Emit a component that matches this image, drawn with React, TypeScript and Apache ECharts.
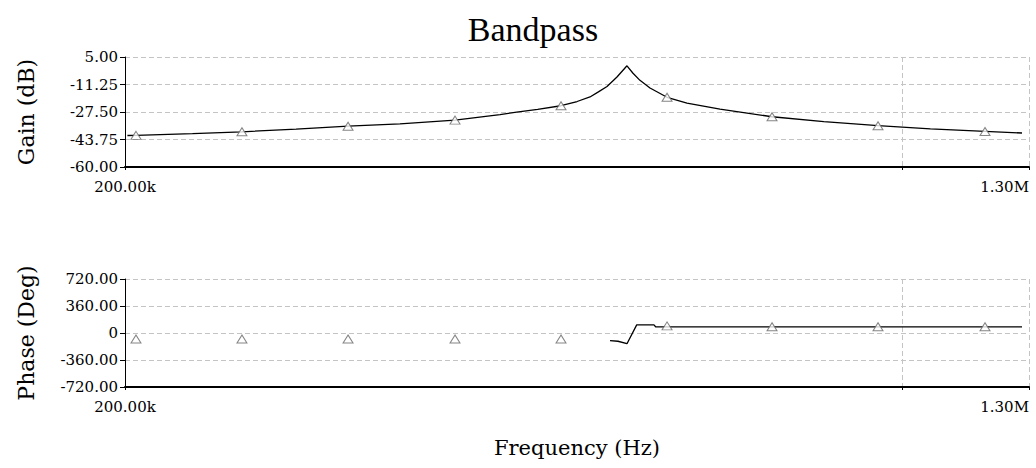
import React, { useEffect, useRef } from "react";
import * as echarts from "echarts";

// Frequency axis (log scale)
const freqMin = 200000;
const freqMax = 1300000;

// Gain plot axis
const gainMin = -60;
const gainMax = 5;
const gainStep = 16.25;

// Phase plot axis
const phaseMin = -720;
const phaseMax = 720;
const phaseStep = 360;

// Gain curve (Hz, dB)
const gainFreq = [
  201000, 204600, 230000, 254800, 285000, 317400, 353400, 396100, 434800, 450000,
  470000, 493300, 510000, 523800, 533000, 542600, 553900, 565500, 572600, 580900,
  593100, 614400, 640300, 685600, 763600, 850000, 951000, 1060000, 1186800, 1281300,
];
const gainDb = [
  -41.4, -41.3, -40.3, -39.2, -37.6, -35.9, -34.5, -32.3, -29.0, -27.6,
  -26.0, -23.8, -21.3, -18.6, -15.6, -12.4, -6.8, -0.2, -4.6, -8.8,
  -13.3, -18.8, -22.3, -25.8, -30.3, -33.2, -35.6, -37.5, -39.0, -39.9,
];

// Phase curve (Hz, degrees) — drawn only around and above resonance
const phaseFreq = [546000, 555000, 565500, 577000, 598000, 600000, 763600, 951000, 1186800, 1281300];
const phaseDeg = [-103, -110, -143, 108, 108, 83, 83, 83, 83, 83];

// Triangle markers
const markerFreq = [204600, 254800, 317400, 396100, 493300, 614400, 763600, 951000, 1186800];
const markerGain = [-41.3, -39.2, -35.9, -32.3, -23.8, -18.8, -30.3, -35.6, -39.0];
const markerPhase = [-80, -80, -80, -80, -80, 95, 84, 84, 84];

const zip = (a: number[], b: number[]) => a.map((v, i) => [v, b[i]]);

const freqLabel = (v: number) => {
  if (Math.abs(v - 1e6) < 1) return "";
  if (v >= 1e6) return (v / 1e6).toFixed(2) + "M";
  return (v / 1e3).toFixed(2) + "k";
};

const tickFont = { fontFamily: "DejaVu Serif", fontSize: 15, color: "#000" };
const nameFont = { fontFamily: "DejaVu Serif", fontSize: 22, color: "#000" };
const dashed = { show: true, lineStyle: { color: "#c4c4c4", type: [5, 3] as any, width: 1 } };

export default function App() {
  const ref = useRef<HTMLDivElement>(null);
  useEffect(() => {
    document.body.style.margin = "0";
    if (!ref.current) return;
    const chart = echarts.init(ref.current, undefined, { renderer: "svg" });
    const xAxisBase = (gridIndex: number) => ({
      type: "log" as const,
      gridIndex,
      min: freqMin,
      max: freqMax,
      logBase: 10,
      axisLine: { show: true, onZero: false, lineStyle: { color: "#000", width: 2 } },
      axisTick: { show: true, length: 3, lineStyle: { color: "#000" } },
      axisLabel: {
        ...tickFont,
        margin: 12,
        formatter: freqLabel,
        showMinLabel: true,
        showMaxLabel: true,
        alignMaxLabel: "right",
      },
      splitLine: dashed,
      minorTick: { show: false },
    });
    chart.setOption({
      animation: false,
      backgroundColor: "#fff",
      graphic: [
        {
          type: "text",
          x: 533,
          y: 29,
          style: {
            text: "Bandpass",
            fontFamily: "Liberation Serif",
            fontSize: 34,
            fill: "#000",
            align: "center",
            verticalAlign: "middle",
          },
        },
      ],
      grid: [
        { left: 125, top: 57, width: 904, height: 110 },
        { left: 125, top: 279, width: 904, height: 108 },
      ],
      xAxis: [
        xAxisBase(0),
        {
          ...xAxisBase(1),
          name: "Frequency (Hz)",
          nameLocation: "middle",
          nameGap: 50,
          nameTextStyle: { ...nameFont, fontSize: 21 },
        },
      ],
      yAxis: [
        {
          type: "value",
          gridIndex: 0,
          min: gainMin,
          max: gainMax,
          interval: gainStep,
          name: "Gain (dB)",
          nameLocation: "middle",
          nameGap: 88,
          nameTextStyle: nameFont,
          axisLine: { show: true, onZero: false, lineStyle: { color: "#000", width: 1 } },
          axisTick: { show: true, length: 5, lineStyle: { color: "#000" } },
          axisLabel: { ...tickFont, margin: 7, formatter: (v: number) => v.toFixed(2) },
          splitLine: dashed,
        },
        {
          type: "value",
          gridIndex: 1,
          min: phaseMin,
          max: phaseMax,
          interval: phaseStep,
          name: "Phase (Deg)",
          nameLocation: "middle",
          nameGap: 88,
          nameTextStyle: nameFont,
          axisLine: { show: true, onZero: false, lineStyle: { color: "#000", width: 1 } },
          axisTick: { show: true, length: 5, lineStyle: { color: "#000" } },
          axisLabel: {
            ...tickFont,
            margin: 7,
            formatter: (v: number) => (v === 0 ? "0" : v.toFixed(2)),
          },
          splitLine: dashed,
        },
      ],
      series: [
        {
          type: "line",
          xAxisIndex: 0,
          yAxisIndex: 0,
          data: zip(gainFreq, gainDb),
          showSymbol: false,
          lineStyle: { color: "#000", width: 1.3 },
          z: 3,
        },
        {
          type: "scatter",
          xAxisIndex: 0,
          yAxisIndex: 0,
          data: zip(markerFreq, markerGain),
          symbol: "triangle",
          symbolSize: [10, 8],
          itemStyle: { color: "#fff", borderColor: "#666", borderWidth: 1 },
          z: 4,
        },
        {
          type: "line",
          xAxisIndex: 1,
          yAxisIndex: 1,
          data: zip(phaseFreq, phaseDeg),
          showSymbol: false,
          lineStyle: { color: "#000", width: 1.3 },
          z: 3,
        },
        {
          type: "scatter",
          xAxisIndex: 1,
          yAxisIndex: 1,
          data: zip(markerFreq, markerPhase),
          symbol: "triangle",
          symbolSize: [10, 8],
          itemStyle: { color: "#fff", borderColor: "#666", borderWidth: 1 },
          z: 4,
        },
      ],
    });
    return () => chart.dispose();
  }, []);
  return <div ref={ref} style={{ width: 1036, height: 468 }} />;
}
